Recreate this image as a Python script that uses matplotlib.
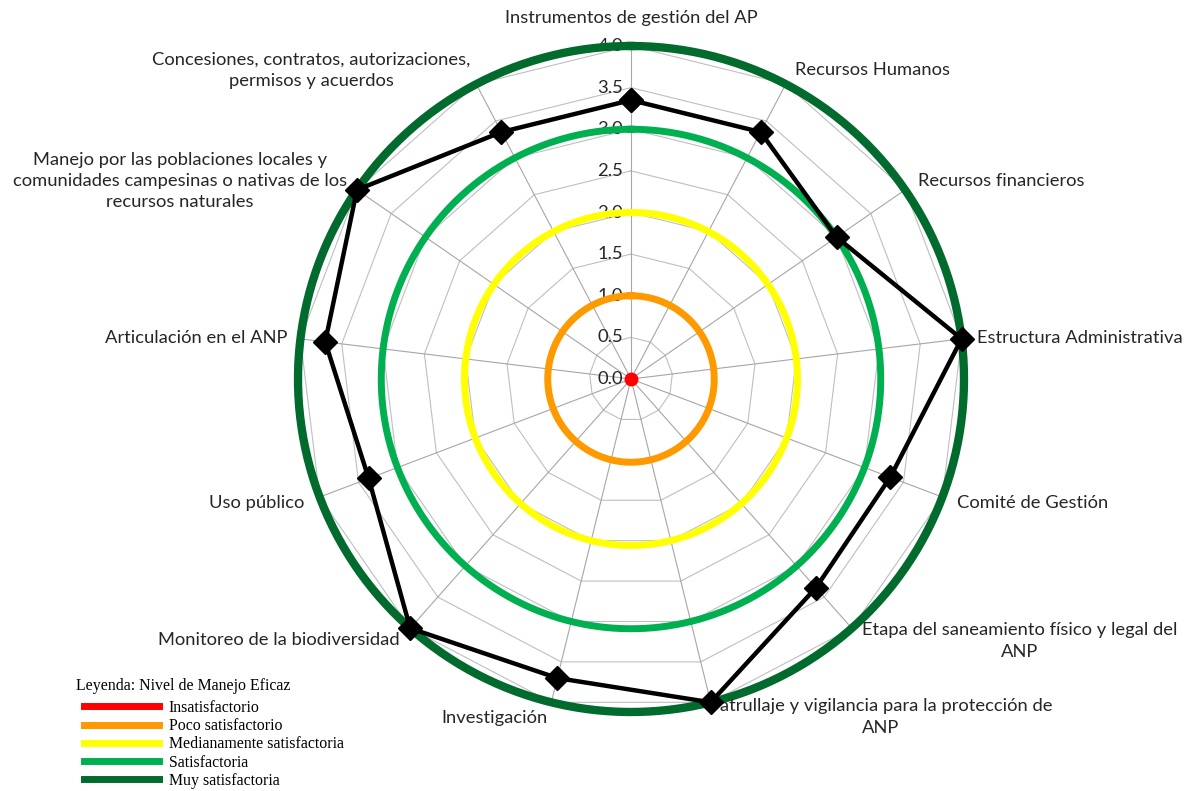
import numpy as np
import matplotlib
matplotlib.use("Agg")
import matplotlib.pyplot as plt
from matplotlib.lines import Line2D

# data
categorias = [
    "Instrumentos de gestión del AP",
    "Recursos Humanos",
    "Recursos financieros",
    "Estructura Administrativa",
    "Comité de Gestión",
    "Etapa del saneamiento físico y legal del\nANP",
    "Patrullaje y vigilancia para la protección de\nANP",
    "Investigación",
    "Monitoreo de la biodiversidad",
    "Uso público",
    "Articulación en el ANP",
    "Manejo por las poblaciones locales y\ncomunidades campesinas o nativas de los\nrecursos naturales",
    "Concesiones, contratos, autorizaciones,\npermisos y acuerdos",
]
valores = [3.35, 3.35, 3.0, 4.0, 3.33, 3.35, 4.0, 3.7, 4.0, 3.37, 3.7, 4.0, 3.35]

niveles = [0.0, 1.0, 2.0, 3.0, 4.0]
niveles_nombres = ["Insatisfactorio", "Poco satisfactorio", "Medianamente satisfactoria",
                   "Satisfactoria", "Muy satisfactoria"]
niveles_colores = ["#FF0000", "#FF9900", "#FFFF00", "#00B050", "#006B2D"]
ticks = [0.0, 0.5, 1.0, 1.5, 2.0, 2.5, 3.0, 3.5, 4.0]

# label placement in figure pixels (x, y, ha)
pos_etiquetas = [
    (631, 18, "center"), (795, 70, "left"), (918, 181, "left"), (977, 338, "left"),
    (957, 503, "left"), (1020, 641, "center"), (881, 717, "center"), (548, 718, "right"),
    (400, 640, "right"), (304, 503, "right"), (287, 338, "right"), (180, 181, "center"),
    (311, 70, "center"),
]

W, H = 1190, 791
fig = plt.figure(figsize=(W / 100, H / 100), dpi=100)
ax = fig.add_axes([298 / W, 79 / H, 666 / W, 666 / H], projection="polar")
ax.set_theta_zero_location("N")
ax.set_theta_direction(-1)
ax.set_ylim(0, 4)
ax.grid(False)
ax.set_xticks([])
ax.set_yticks([])
ax.spines["polar"].set_visible(False)
ax.patch.set_alpha(0)

n = len(categorias)
ang = np.arange(n) * 2 * np.pi / n
ang_c = np.append(ang, ang[0])

# web grid
for t in ticks[1:]:
    ax.plot(ang_c, [t] * (n + 1), color="#BFBFBF", lw=0.8, zorder=1)
for a in ang:
    ax.plot([a, a], [0, 4], color="#A6A6A6", lw=0.8, zorder=1)

texto = "#262626"
fs = 13.2
for t in ticks:
    ax.annotate(f"{t:.1f}", xy=(0, t), xytext=(-8, 0), textcoords="offset pixels",
                ha="right", va="center", fontsize=fs, color=texto,
                family="Lato", zorder=2)

# rings for levels
circ = np.linspace(0, 2 * np.pi, 400)
for lv, c in zip(niveles[1:], niveles_colores[1:]):
    lw = 6 if lv == 4.0 else 5
    ax.plot(circ, np.full_like(circ, lv), color=c, lw=lw, zorder=3, clip_on=False)
ax.plot([0], [niveles[0]], "o", color=niveles_colores[0], ms=9, zorder=6)

# category labels
for lab, (x, y, ha) in zip(categorias, pos_etiquetas):
    ax.text(x / W, 1 - y / H, lab, transform=fig.transFigure, ha=ha, va="center",
            multialignment="center", fontsize=fs, color=texto, family="Lato",
            linespacing=1.4, zorder=4, clip_on=False)

# data
ax.plot(ang_c, valores + valores[:1], color="black", lw=3.2, marker="D", ms=12,
        zorder=5, clip_on=False)

# legend
fig.text(76 / W, 1 - 686 / H, "Leyenda: Nivel de Manejo Eficaz", ha="left", va="center",
         family="Liberation Serif", fontsize=11.4, color="black")
handles = [Line2D([], [], color=c, lw=5) for c in niveles_colores]
leg = fig.legend(handles, niveles_nombres, loc="upper left",
                 bbox_to_anchor=(84 / W, 1 - 700 / H), frameon=False,
                 prop={"family": "Liberation Serif", "size": 11.4},
                 handlelength=4.75, handletextpad=0.6, labelspacing=0.14,
                 borderaxespad=0, borderpad=0)

fig.savefig("out.png", dpi=100)
